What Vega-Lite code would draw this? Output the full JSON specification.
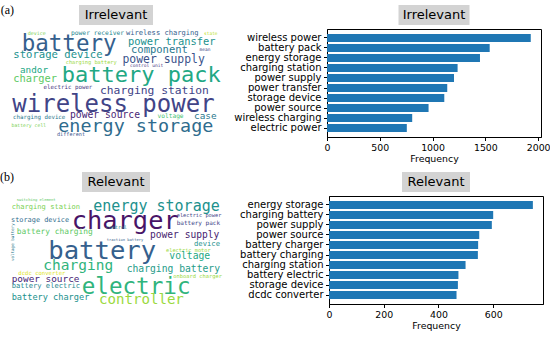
{
  "$schema": "https://vega.github.io/schema/vega-lite/v6.json",
  "padding": {"left": 0, "top": 4, "right": 0, "bottom": 4},
  "background": "white",
  "config": {
    "view": {"stroke": null},
    "axis": {"labelFont": "DejaVu Sans", "titleFont": "DejaVu Sans", "labelColor": "black", "titleColor": "black", "tickColor": "black", "domainColor": "black", "grid": false, "titleFontWeight": "normal", "labelFontSize": 10, "titleFontSize": 9.4, "tickSize": 3.5, "labelPadding": 2.5, "labelFlush": false, "labelOverlap": false},
    "title": {"font": "Liberation Serif", "fontSize": 12, "fontWeight": "normal", "color": "black"}
  },
  "datasets": {
    "wcA": [
      {"word": "device", "x": 27.7, "y": 32, "weight": 5, "tone": 0.8},
      {"word": "power receiver", "x": 71, "y": 32, "weight": 6.3, "tone": 0.45},
      {"word": "wireless charging", "x": 126, "y": 32, "weight": 7.1, "tone": 0.3},
      {"word": "state", "x": 204, "y": 32.5, "weight": 4.5, "tone": 0.9},
      {"word": "battery", "x": 21.7, "y": 42.5, "weight": 22.5, "tone": 0.3},
      {"word": "power transfer", "x": 128, "y": 41, "weight": 10.4, "tone": 0.5},
      {"word": "mean", "x": 199.5, "y": 48.5, "weight": 4.5, "tone": 0.2},
      {"word": "component", "x": 131, "y": 49, "weight": 10.5, "tone": 0.4},
      {"word": "storage device", "x": 13.3, "y": 54, "weight": 10.6, "tone": 0.5},
      {"word": "power supply", "x": 122.5, "y": 58.5, "weight": 11.4, "tone": 0.25},
      {"word": "charging battery", "x": 65.7, "y": 60.5, "weight": 5.3, "tone": 0.85},
      {"word": "control unit", "x": 130, "y": 64.5, "weight": 4.6, "tone": 0.15},
      {"word": "andor", "x": 20, "y": 68.5, "weight": 9.3, "tone": 0.6},
      {"word": "battery pack", "x": 61.7, "y": 74, "weight": 22, "tone": 0.6},
      {"word": "charger", "x": 13.3, "y": 78, "weight": 10.4, "tone": 0.75},
      {"word": "electric power", "x": 43.5, "y": 86, "weight": 5.8, "tone": 0.15},
      {"word": "charging station", "x": 100, "y": 89.5, "weight": 11.3, "tone": 0.2},
      {"word": "wireless power", "x": 12.3, "y": 103.5, "weight": 24, "tone": 0.2},
      {"word": "charging device", "x": 13, "y": 115.5, "weight": 5.8, "tone": 0.4},
      {"word": "power source", "x": 70, "y": 114, "weight": 9.7, "tone": 0.1},
      {"word": "voltage", "x": 157.5, "y": 115, "weight": 6.2, "tone": 0.7},
      {"word": "case", "x": 194, "y": 114.5, "weight": 9.4, "tone": 0.4},
      {"word": "battery cell", "x": 11.5, "y": 124.5, "weight": 4.8, "tone": 0.8},
      {"word": "energy storage", "x": 58.3, "y": 124.5, "weight": 18.4, "tone": 0.35},
      {"word": "different", "x": 57, "y": 132.5, "weight": 5.2, "tone": 0.25}
    ],
    "wcB": [
      {"word": "switching element", "x": 16.7, "y": 201, "weight": 3.8, "tone": 0.75, "rot": 0},
      {"word": "charging station", "x": 11.7, "y": 208.3, "weight": 7.1, "tone": 0.8, "rot": 0},
      {"word": "energy storage", "x": 93.3, "y": 206.5, "weight": 15, "tone": 0.5, "rot": 0},
      {"word": "electric power", "x": 176.7, "y": 216, "weight": 5.3, "tone": 0.2, "rot": 0},
      {"word": "storage device", "x": 11, "y": 220.7, "weight": 6.9, "tone": 0.35, "rot": 0},
      {"word": "charger", "x": 71.7, "y": 222, "weight": 25.4, "tone": 0.05, "rot": 0},
      {"word": "battery pack", "x": 176.7, "y": 224, "weight": 6, "tone": 0.2, "rot": 0},
      {"word": "control", "x": 106, "y": 228.3, "weight": 5, "tone": 0.5, "rot": 0},
      {"word": "battery charging", "x": 16.7, "y": 232.7, "weight": 7.9, "tone": 0.75, "rot": 0},
      {"word": "power supply", "x": 150, "y": 235.5, "weight": 9.6, "tone": 0.08, "rot": 0},
      {"word": "traction battery", "x": 106.7, "y": 240.7, "weight": 3.8, "tone": 0.3, "rot": 0},
      {"word": "voltage battery", "x": 12.5, "y": 262, "weight": 4.2, "tone": 0.4, "rot": 270},
      {"word": "device", "x": 194, "y": 245, "weight": 7.2, "tone": 0.5, "rot": 0},
      {"word": "battery", "x": 48.3, "y": 251.5, "weight": 25.6, "tone": 0.3, "rot": 0},
      {"word": "electric motor", "x": 166, "y": 250.7, "weight": 5.3, "tone": 0.85, "rot": 0},
      {"word": "voltage", "x": 169.3, "y": 257.3, "weight": 9.7, "tone": 0.6, "rot": 0},
      {"word": "charging", "x": 43.3, "y": 266.5, "weight": 14.5, "tone": 0.65, "rot": 0},
      {"word": "charging battery", "x": 126.7, "y": 270, "weight": 9.7, "tone": 0.55, "rot": 0},
      {"word": "dcdc converter", "x": 18.3, "y": 274.3, "weight": 5.6, "tone": 0.95, "rot": 0},
      {"word": "onboard charger", "x": 173.3, "y": 276.7, "weight": 5.4, "tone": 0.85, "rot": 0},
      {"word": "power source", "x": 11.7, "y": 280, "weight": 9.4, "tone": 0.1, "rot": 0},
      {"word": "battery electric", "x": 11.7, "y": 286.7, "weight": 7.1, "tone": 0.45, "rot": 0},
      {"word": "electric", "x": 81.7, "y": 288, "weight": 22.6, "tone": 0.65, "rot": 0},
      {"word": "battery charger", "x": 11.7, "y": 297.7, "weight": 8.6, "tone": 0.5, "rot": 0},
      {"word": "controller", "x": 99, "y": 301, "weight": 14.1, "tone": 0.85, "rot": 0}
    ],
    "barA": [
      {"term": "wireless power", "freq": 1930},
      {"term": "battery pack", "freq": 1541},
      {"term": "energy storage", "freq": 1449},
      {"term": "charging station", "freq": 1237},
      {"term": "power supply", "freq": 1203},
      {"term": "power transfer", "freq": 1139},
      {"term": "storage device", "freq": 1111},
      {"term": "power source", "freq": 962},
      {"term": "wireless charging", "freq": 807},
      {"term": "electric power", "freq": 756}
    ],
    "barB": [
      {"term": "energy storage", "freq": 745},
      {"term": "charging battery", "freq": 600},
      {"term": "power supply", "freq": 595},
      {"term": "power source", "freq": 549},
      {"term": "battery charger", "freq": 545},
      {"term": "battery charging", "freq": 544},
      {"term": "charging station", "freq": 499},
      {"term": "battery electric", "freq": 473},
      {"term": "storage device", "freq": 471},
      {"term": "dcdc converter", "freq": 466}
    ]
  },
  "spacing": 7,
  "vconcat": [
    {
      "title": {"text": "(a)", "orient": "left", "angle": 0, "anchor": "end", "align": "left", "baseline": "top", "offset": -4},
      "spacing": 11,
      "hconcat": [
        {
          "spacing": 4, "center": true, "bounds": "flush",
          "vconcat": [
            {"width": 74, "height": 20, "view": {"fill": "#d3d3d3", "stroke": null},
             "data": {"values": [{"label": "Irrelevant"}]},
             "mark": {"type": "text", "font": "DejaVu Sans", "fontSize": 13, "color": "black", "baseline": "middle"},
             "encoding": {"text": {"field": "label"}}},
            {"width": 212, "height": 108,
             "data": {"name": "wcA"},
             "mark": {"type": "text", "align": "left", "baseline": "middle", "font": "DejaVu Sans Mono"},
             "encoding": {
               "x": {"field": "x", "type": "quantitative", "scale": {"domain": [10, 222]}, "axis": null},
               "y": {"field": "y", "type": "quantitative", "scale": {"domain": [28, 136], "reverse": true}, "axis": null},
               "text": {"field": "word"},
               "size": {"field": "weight", "type": "quantitative", "scale": {"type": "linear", "domain": [0, 30], "range": [0, 30]}, "legend": null},
               "color": {"field": "tone", "type": "quantitative", "scale": {"scheme": "viridis", "domain": [0, 1]}, "legend": null}
             }}
          ]
        },
        {
          "spacing": 4, "center": true, "bounds": "flush",
          "vconcat": [
            {"width": 71, "height": 20, "view": {"fill": "#d3d3d3", "stroke": null},
             "data": {"values": [{"label": "Irrelevant"}]},
             "mark": {"type": "text", "font": "DejaVu Sans", "fontSize": 13, "color": "black", "baseline": "middle"},
             "encoding": {"text": {"field": "label"}}},
            {"width": 214, "height": 108,
             "view": {"stroke": "black", "strokeWidth": 1},
             "data": {"name": "barA"},
             "mark": {"type": "bar", "color": "#1f77b4"},
             "encoding": {
               "y": {"field": "term", "type": "nominal", "sort": null, "scale": {"paddingInner": 0.2, "paddingOuter": 0.49}, "axis": {"title": null}},
               "x": {"field": "freq", "type": "quantitative", "scale": {"domain": [0, 2027], "nice": false}, "axis": {"values": [0, 500, 1000, 1500, 2000], "format": "d", "title": "Frequency", "labelFontSize": 9.4, "titlePadding": 3}}
             }}
          ]
        }
      ]
    },
    {
      "title": {"text": "(b)", "orient": "left", "angle": 0, "anchor": "end", "align": "left", "baseline": "top", "offset": -4},
      "spacing": 17,
      "hconcat": [
        {
          "spacing": 4, "center": true, "bounds": "flush",
          "vconcat": [
            {"width": 68, "height": 20, "view": {"fill": "#d3d3d3", "stroke": null},
             "data": {"values": [{"label": "Relevant"}]},
             "mark": {"type": "text", "font": "DejaVu Sans", "fontSize": 13, "color": "black", "baseline": "middle"},
             "encoding": {"text": {"field": "label"}}},
            {"width": 212, "height": 108,
             "data": {"name": "wcB"},
             "mark": {"type": "text", "align": "left", "baseline": "middle", "font": "DejaVu Sans Mono"},
             "encoding": {
               "x": {"field": "x", "type": "quantitative", "scale": {"domain": [10, 222]}, "axis": null},
               "y": {"field": "y", "type": "quantitative", "scale": {"domain": [197, 305], "reverse": true}, "axis": null},
               "text": {"field": "word"},
               "size": {"field": "weight", "type": "quantitative", "scale": {"type": "linear", "domain": [0, 30], "range": [0, 30]}, "legend": null},
               "color": {"field": "tone", "type": "quantitative", "scale": {"scheme": "viridis", "domain": [0, 1]}, "legend": null},
               "angle": {"field": "rot", "type": "quantitative", "scale": {"domain": [0, 360], "range": [0, 360]}, "legend": null}
             }}
          ]
        },
        {
          "spacing": 4, "center": true, "bounds": "flush",
          "vconcat": [
            {"width": 68, "height": 20, "view": {"fill": "#d3d3d3", "stroke": null},
             "data": {"values": [{"label": "Relevant"}]},
             "mark": {"type": "text", "font": "DejaVu Sans", "fontSize": 13, "color": "black", "baseline": "middle"},
             "encoding": {"text": {"field": "label"}}},
            {"width": 214, "height": 108,
             "view": {"stroke": "black", "strokeWidth": 1},
             "data": {"name": "barB"},
             "mark": {"type": "bar", "color": "#1f77b4"},
             "encoding": {
               "y": {"field": "term", "type": "nominal", "sort": null, "scale": {"paddingInner": 0.2, "paddingOuter": 0.49}, "axis": {"title": null}},
               "x": {"field": "freq", "type": "quantitative", "scale": {"domain": [0, 782], "nice": false}, "axis": {"values": [0, 200, 400, 600], "format": "d", "title": "Frequency", "labelFontSize": 9.4, "titlePadding": 3}}
             }}
          ]
        }
      ]
    }
  ]
}
